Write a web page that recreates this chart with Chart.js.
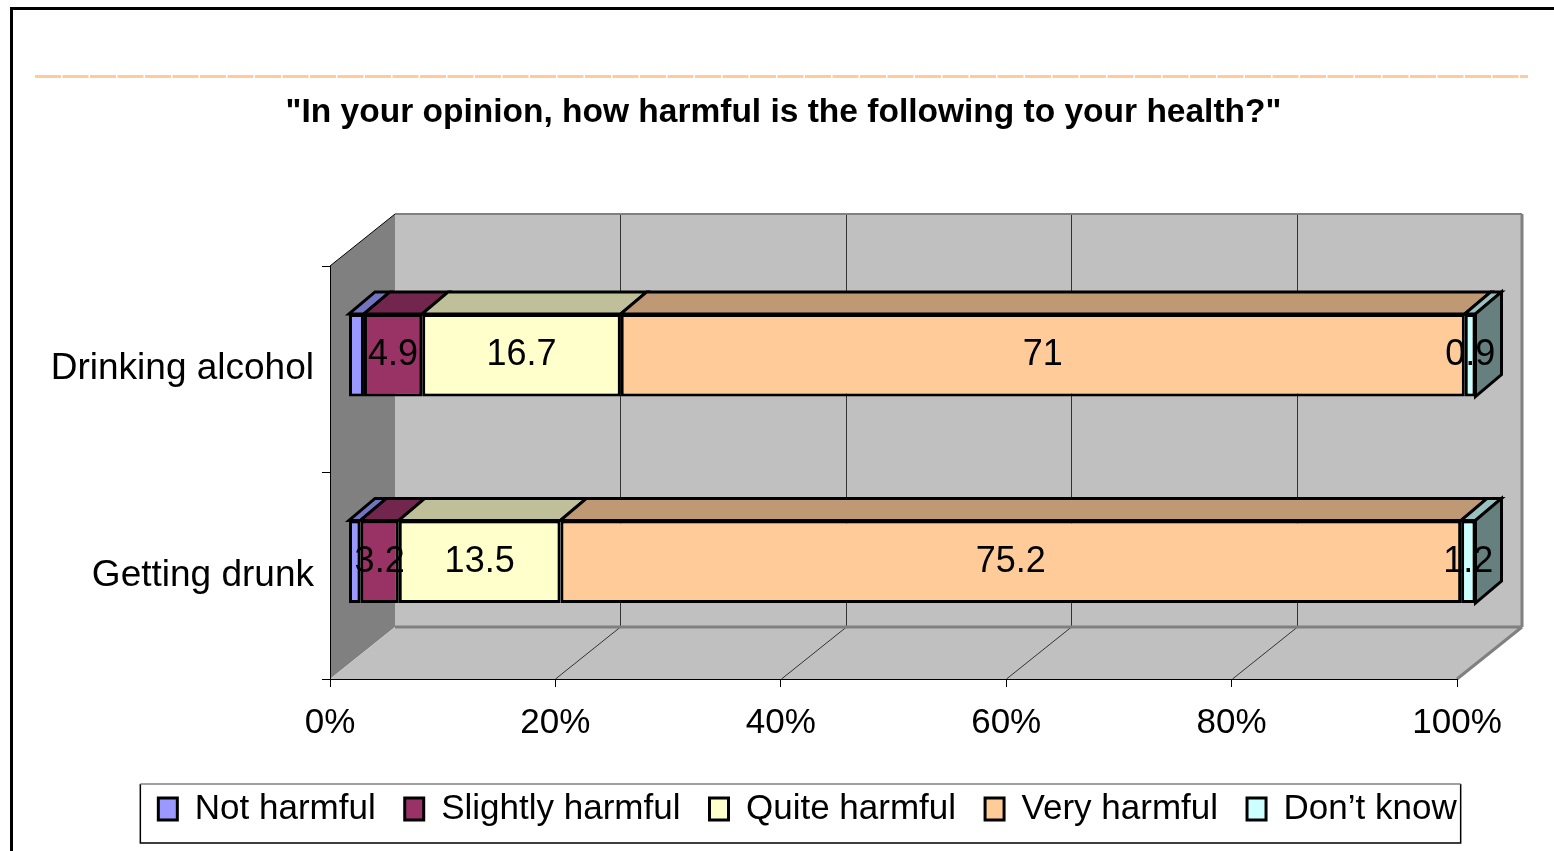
<!DOCTYPE html>
<html>
<head>
<meta charset="utf-8">
<title>How harmful is the following to your health?</title>
<script src="https://cdn.jsdelivr.net/npm/chart.js@4.4.0/dist/chart.umd.min.js"></script>
<style>
  html, body { margin: 0; padding: 0; background: #ffffff; }
  canvas { display: block; }
</style>
</head>
<body>
<canvas id="c" width="1554" height="851"></canvas>
<script>
// ---- data ----
const categories = ['Drinking alcohol', 'Getting drunk'];
const seriesNames = ['Not harmful', 'Slightly harmful', 'Quite harmful', 'Very harmful', 'Don\u2019t know'];
const notHarmful = [1.3, 1.0];
const slightlyHarmful = [4.9, 3.2];
const quiteHarmful = [16.7, 13.5];
const veryHarmful = [71, 75.2];
const dontKnow = [0.9, 1.2];
const xTickValues = [0, 20, 40, 60, 80, 100];
const titleText = '"In your opinion, how harmful is the following to your health?"';

// ---- styles ----
const frontColors = ['#9999FF', '#993366', '#FFFFCC', '#FFCC99', '#CCFFFF'];
const topColors   = ['#7373BF', '#73264D', '#BFBF99', '#BF9973', '#99BFBF'];
const sideColor   = '#668080';
const showLabel   = [false, true, true, true, true];
const BAR_OFF = { x: 18.5, y: -14 };   // bar front face offset from front plane
const DEPTH   = { x: 26, y: -22 };     // bar depth
const WALL    = { x: 65, y: -52 };     // back wall offset
const TITLE_SHIFT = 45;
const LEGEND_SHIFT = 69;

const seriesValues = [notHarmful, slightlyHarmful, quiteHarmful, veryHarmful, dontKnow];
const totals = categories.map((_, i) => seriesValues.reduce((s, arr) => s + arr[i], 0));

const FONT = '"Liberation Sans", Arial, Helvetica, sans-serif';
Chart.defaults.font.family = FONT;
Chart.defaults.color = '#000';

function poly(ctx, pts) {
  ctx.beginPath();
  ctx.moveTo(pts[0][0], pts[0][1]);
  for (let i = 1; i < pts.length; i++) ctx.lineTo(pts[i][0], pts[i][1]);
  ctx.closePath();
}
function seg(ctx, x1, y1, x2, y2) {
  ctx.beginPath(); ctx.moveTo(x1, y1); ctx.lineTo(x2, y2); ctx.stroke();
}

const threeD = {
  id: 'threeD',
  afterLayout(chart) {
    chart.titleBlock.left += TITLE_SHIFT;
    chart.titleBlock.right += TITLE_SHIFT;
    chart.legend.left += LEGEND_SHIFT;
    chart.legend.right += LEGEND_SHIFT;
  },
  beforeDraw(chart) {
    const ctx = chart.ctx, a = chart.chartArea, xs = chart.scales.x;
    ctx.save();
    // outer frame
    ctx.strokeStyle = '#000'; ctx.lineWidth = 3;
    ctx.beginPath(); ctx.moveTo(11.5, 851); ctx.lineTo(11.5, 8.5); ctx.lineTo(1554, 8.5); ctx.stroke();
    // dashed peach rule
    ctx.strokeStyle = '#FFCC99'; ctx.lineWidth = 3; ctx.setLineDash([26, 1.5]);
    seg(ctx, 35, 76.5, 1528, 76.5);
    ctx.setLineDash([]);

    const L = a.left, R = a.right, T = a.top, B = a.bottom, wx = WALL.x, wy = WALL.y;
    // back wall
    ctx.fillStyle = '#C0C0C0';
    ctx.fillRect(L + wx, T + wy, R - L, B - T);
    // left wall
    ctx.fillStyle = '#808080';
    poly(ctx, [[L, T], [L + wx, T + wy], [L + wx, B + wy], [L, B]]); ctx.fill();
    // floor
    ctx.fillStyle = '#C0C0C0';
    poly(ctx, [[L, B], [L + wx, B + wy], [R + wx, B + wy], [R, B]]); ctx.fill();
    // gridlines on wall and floor
    ctx.strokeStyle = '#333'; ctx.lineWidth = 1;
    xs.ticks.forEach(t => {
      const px = Math.round(xs.getPixelForValue(t.value)) + 0.5;
      if (px > L + 2 && px < R - 2) {
        seg(ctx, px + wx, T + wy, px + wx, B + wy);
        seg(ctx, px, B, px + wx, B + wy);
      }
    });
    // wall edges
    ctx.strokeStyle = '#808080'; ctx.lineWidth = 3;
    seg(ctx, L + wx, B + wy, R + wx, B + wy);
    seg(ctx, R + wx, T + wy, R + wx, B + wy);
    seg(ctx, R + wx, B + wy, R, B);
    ctx.lineWidth = 2;
    seg(ctx, L + wx, T + wy, R + wx, T + wy);
    ctx.strokeStyle = '#000'; ctx.lineWidth = 1;
    seg(ctx, L, T, L + wx, T + wy);
    ctx.restore();
  },
  beforeDatasetsDraw(chart) {
    const ctx = chart.ctx;
    ctx.save();
    ctx.lineWidth = 3; ctx.strokeStyle = '#000'; ctx.lineJoin = 'miter';
    const dx = DEPTH.x, dy = DEPTH.y;
    chart.data.labels.forEach((_, i) => {
      let last = null;
      chart.data.datasets.forEach((ds, di) => {
        const el = chart.getDatasetMeta(di).data[i];
        const p = el.getProps(['x', 'base', 'y', 'height'], true);
        const x1 = Math.min(p.x, p.base) + BAR_OFF.x;
        const x2 = Math.max(p.x, p.base) + BAR_OFF.x;
        const yt = p.y - p.height / 2 + BAR_OFF.y;
        const yb = p.y + p.height / 2 + BAR_OFF.y;
        ctx.fillStyle = topColors[di];
        poly(ctx, [[x1, yt], [x1 + dx, yt + dy], [x2 + dx, yt + dy], [x2, yt]]);
        ctx.fill(); ctx.stroke();
        last = { x2, yt, yb };
      });
      if (last) {
        ctx.fillStyle = sideColor;
        poly(ctx, [[last.x2, last.yt], [last.x2 + dx, last.yt + dy], [last.x2 + dx, last.yb + dy], [last.x2, last.yb]]);
        ctx.fill(); ctx.stroke();
      }
    });
    ctx.restore();
    ctx.save();
    ctx.translate(BAR_OFF.x, BAR_OFF.y);
  },
  afterDatasetsDraw(chart) {
    const ctx = chart.ctx;
    ctx.restore();
    ctx.save();
    ctx.font = '36px ' + FONT;
    ctx.fillStyle = '#000';
    ctx.textAlign = 'center';
    ctx.textBaseline = 'middle';
    chart.data.datasets.forEach((ds, di) => {
      if (!showLabel[di]) return;
      chart.getDatasetMeta(di).data.forEach((el, i) => {
        const p = el.getProps(['x', 'base', 'y'], true);
        ctx.fillText(String(ds.raw[i]), (p.x + p.base) / 2 + BAR_OFF.x, p.y + BAR_OFF.y);
      });
    });
    ctx.restore();
  },
  afterDraw(chart) {
    const ctx = chart.ctx, hb = chart.legend.legendHitBoxes;
    if (!hb || !hb.length) return;
    const first = hb[0], lastB = hb[hb.length - 1];
    const l = first.left - 18, r = lastB.left + lastB.width + 4;
    const t = first.top - 7.5, b = first.top + 51.5;
    ctx.save();
    ctx.lineWidth = 1.5;
    ctx.strokeStyle = '#000';
    ctx.beginPath(); ctx.moveTo(l, t); ctx.lineTo(l, b); ctx.lineTo(r, b); ctx.lineTo(r, t); ctx.stroke();
    ctx.strokeStyle = '#808080';
    seg(ctx, l, t, r, t);
    ctx.restore();
  }
};

const datasets = seriesNames.map((name, di) => ({
  label: name,
  raw: seriesValues[di],
  data: seriesValues[di].map((v, i) => v / totals[i] * 100),
  backgroundColor: frontColors[di],
  borderColor: '#000',
  borderWidth: 3,
  borderSkipped: false,
  categoryPercentage: 1.0,
  barPercentage: 0.4
}));

new Chart(document.getElementById('c'), {
  type: 'bar',
  data: { labels: categories, datasets },
  plugins: [threeD],
  options: {
    indexAxis: 'y',
    responsive: false,
    devicePixelRatio: 1,
    animation: false,
    layout: { padding: { left: 20, right: 97, top: 0, bottom: 14.5 } },
    plugins: {
      tooltip: { enabled: false },
      title: {
        display: true,
        text: titleText,
        font: { size: 33.5, weight: 'bold', family: FONT, lineHeight: 1.2 },
        color: '#000',
        padding: { top: 93, bottom: 132.8 }
      },
      legend: {
        position: 'bottom',
        labels: {
          font: { size: 35, family: FONT },
          color: '#000',
          boxWidth: 19,
          boxHeight: 22,
          padding: 29
        }
      }
    },
    scales: {
      x: {
        stacked: true,
        min: 0,
        max: 100,
        afterBuildTicks(scale) { scale.ticks = xTickValues.map(v => ({ value: v })); },
        afterFit(scale) { scale.height = 83.5; },
        ticks: { callback: v => v + '%', font: { size: 35, family: FONT }, color: '#000', padding: 15, maxRotation: 0 },
        grid: { drawOnChartArea: false, drawTicks: true, tickLength: 8, color: '#000', lineWidth: 1 },
        border: { display: true, color: '#000', width: 1 }
      },
      y: {
        stacked: true,
        afterFit(scale) { scale.width = 310; },
        ticks: { font: { size: 37, family: FONT }, color: '#000', padding: 8 },
        grid: { drawOnChartArea: false, drawTicks: true, tickLength: 8, color: '#000', lineWidth: 1, offset: true },
        border: { display: true, color: '#000', width: 1 }
      }
    }
  }
});
</script>
</body>
</html>
